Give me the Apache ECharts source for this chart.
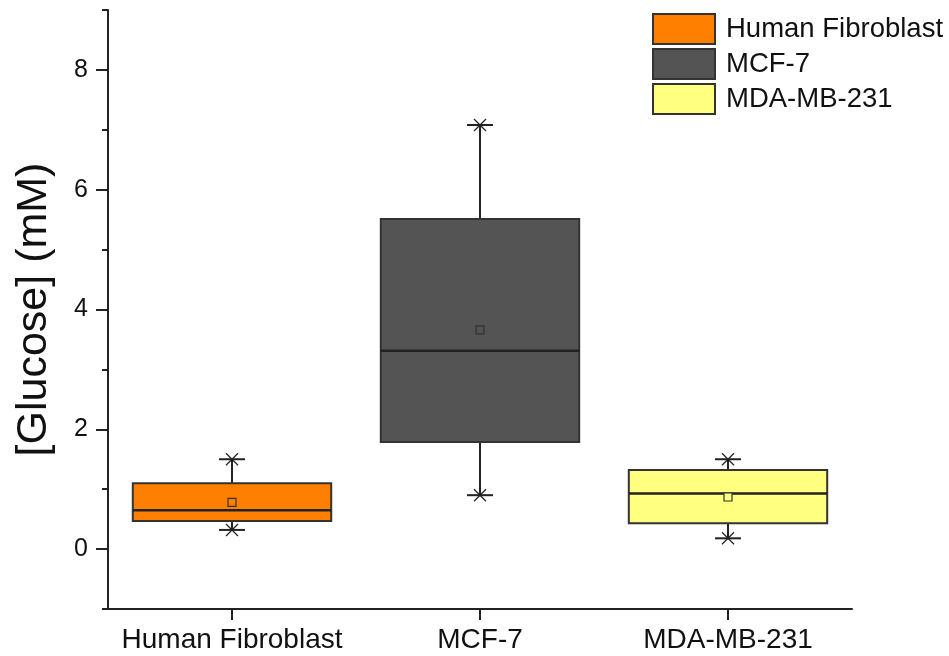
<!DOCTYPE html>
<html>
<head>
<meta charset="utf-8">
<script src="https://cdn.jsdelivr.net/npm/echarts@6/dist/echarts.min.js"></script>
<style>
  html, body { margin: 0; padding: 0; background: #fff; }
  #chart { width: 949px; height: 656px; }
</style>
</head>
<body>
<div id="chart"></div>
<script>
// data
const categories = ['Human Fibroblast', 'MCF-7', 'MDA-MB-231']
const minVals = [0.32, 0.90, 0.18]
const q1Vals = [0.47, 1.79, 0.43]
const medianVals = [0.65, 3.31, 0.93]
const q3Vals = [1.10, 5.51, 1.32]
const maxVals = [1.50, 7.08, 1.50]
const meanVals = [0.78, 3.66, 0.87]
const boxColors = ['#FF8000', '#545454', '#FFFF80']
const majorTicks = [0, 2, 4, 6, 8]
const minorTicks = [-1, 1, 3, 5, 7, 9]

const lineColor = '#222'
const fontFamily = 'Liberation Sans, Arial, sans-serif'

// 箱线图绘制
const renderBox = (params, api) => {
  const x = api.value(0)
  const pMin = api.coord([x, api.value(1)])
  const pQ1 = api.coord([x, api.value(2)])
  const pMed = api.coord([x, api.value(3)])
  const pQ3 = api.coord([x, api.value(4)])
  const pMax = api.coord([x, api.value(5)])
  const pMean = api.coord([x, api.value(6)])
  const cx = pMed[0]
  const boxW = api.size([1, 0])[0] * 0.8
  const capHalf = 13
  const xs = 6
  const color = boxColors[params.seriesIndex]
  const lineStyle = { stroke: lineColor, lineWidth: 2 }

  const star = (p) => [
    { type: 'line', shape: { x1: cx - capHalf, y1: p[1], x2: cx + capHalf, y2: p[1] }, style: lineStyle },
    { type: 'line', shape: { x1: cx - xs, y1: p[1] - xs, x2: cx + xs, y2: p[1] + xs }, style: { stroke: lineColor, lineWidth: 1.3 } },
    { type: 'line', shape: { x1: cx - xs, y1: p[1] + xs, x2: cx + xs, y2: p[1] - xs }, style: { stroke: lineColor, lineWidth: 1.3 } }
  ]

  return {
    type: 'group',
    children: [
      { type: 'line', shape: { x1: cx, y1: pMax[1], x2: cx, y2: pQ3[1] }, style: lineStyle },
      { type: 'line', shape: { x1: cx, y1: pQ1[1], x2: cx, y2: pMin[1] }, style: lineStyle },
      {
        type: 'rect',
        shape: { x: cx - boxW / 2, y: pQ3[1], width: boxW, height: pQ1[1] - pQ3[1] },
        style: { fill: color, stroke: '#333', lineWidth: 2 }
      },
      { type: 'line', shape: { x1: cx - boxW / 2, y1: pMed[1], x2: cx + boxW / 2, y2: pMed[1] }, style: { stroke: lineColor, lineWidth: 2.5 } },
      {
        type: 'rect',
        shape: { x: cx - 4, y: pMean[1] - 4, width: 8, height: 8 },
        style: { fill: color, stroke: '#333', lineWidth: 1.2 }
      },
      ...star(pMax),
      ...star(pMin)
    ]
  }
}

const chartInstance = echarts.init(document.getElementById('chart'))

const series = categories.map((name, i) => {
  return {
    name: name,
    type: 'custom',
    renderItem: renderBox,
    itemStyle: { color: boxColors[i], borderColor: '#333', borderWidth: 2 },
    encode: { x: 0, y: [1, 2, 3, 4, 5, 6] },
    data: [[i, minVals[i], q1Vals[i], medianVals[i], q3Vals[i], maxVals[i], meanVals[i]]],
    z: 3
  }
})

const option = {
  animation: false,
  backgroundColor: '#fff',
  grid: { left: 108, right: 97, top: 10, bottom: 47 },
  legend: {
    orient: 'vertical',
    left: 647,
    top: 8,
    itemWidth: 62,
    itemHeight: 30,
    itemGap: 3,
    icon: 'rect',
    itemStyle: { borderColor: '#333', borderWidth: 2 },
    textStyle: { fontSize: 27.5, lineHeight: 30, color: '#111', fontFamily: fontFamily, padding: [0, 0, 0, 6] },
    data: categories
  },
  xAxis: {
    type: 'category',
    data: categories,
    boundaryGap: true,
    axisLine: { show: true, onZero: false, lineStyle: { color: lineColor, width: 2 } },
    axisTick: { show: true, alignWithLabel: true, length: 11, lineStyle: { color: lineColor, width: 2 } },
    axisLabel: { interval: 0, fontSize: 28, color: '#111', fontFamily: fontFamily, margin: 17 },
    splitLine: { show: false }
  },
  yAxis: [
    {
      type: 'value',
      min: -1,
      max: 9,
      name: '[Glucose] (mM)',
      nameLocation: 'middle',
      nameGap: 52,
      nameTextStyle: { fontSize: 43, color: '#111', fontFamily: fontFamily },
      axisLine: { show: true, lineStyle: { color: lineColor, width: 2 } },
      axisTick: { show: true, length: 12, customValues: majorTicks, lineStyle: { color: lineColor, width: 2 } },
      axisLabel: { fontSize: 25, color: '#111', fontFamily: fontFamily, margin: 20, customValues: majorTicks },
      splitLine: { show: false }
    },
    {
      type: 'value',
      min: -1,
      max: 9,
      position: 'left',
      axisLine: { show: false },
      axisTick: { show: true, length: 6, customValues: minorTicks, lineStyle: { color: lineColor, width: 2 } },
      axisLabel: { show: false },
      splitLine: { show: false }
    }
  ],
  series: series
}

chartInstance.setOption(option)
</script>
</body>
</html>
